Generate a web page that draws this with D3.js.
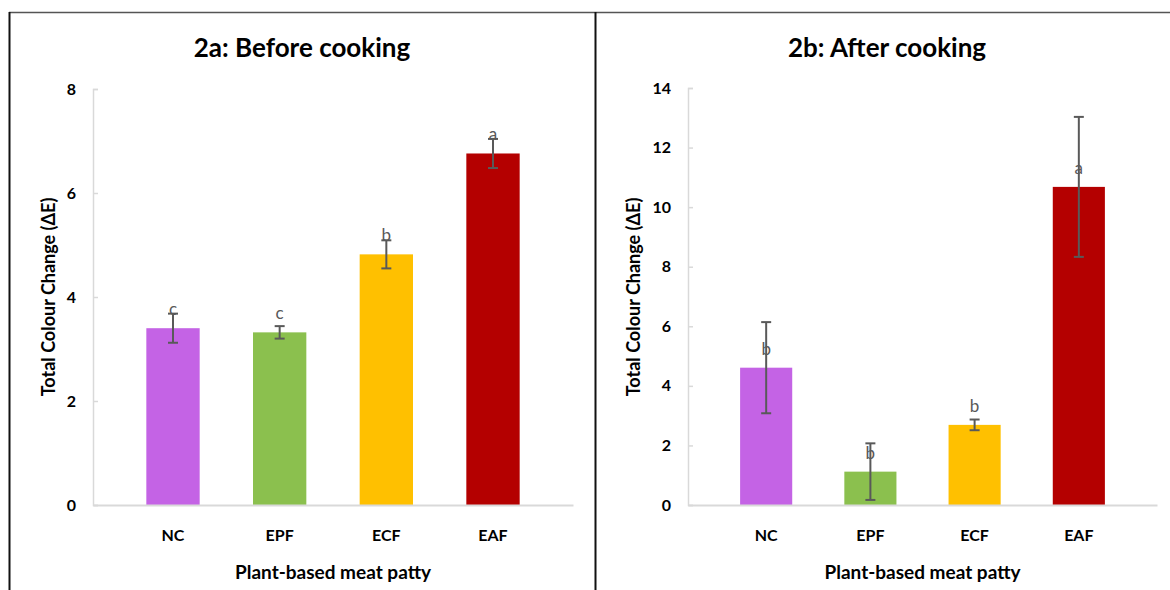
<!DOCTYPE html>
<html>
<head>
<meta charset="utf-8">
<script src="https://cdn.jsdelivr.net/npm/d3@7"></script>
<style>
  html, body { margin: 0; padding: 0; background: #fff; }
  svg { display: block; font-family: Lato, "Open Sans", sans-serif; }
</style>
</head>
<body>
<svg id="chart" width="1170" height="590"></svg>
<script>
// Patty types and measured total colour change (mean ± SD)
const categories = ["NC", "EPF", "ECF", "EAF"];
const barColors = ["#c463e5", "#8bc04e", "#ffc000", "#b40000"];

const beforeMeans   = [3.40, 3.32, 4.82, 6.76];
const beforeErrors  = [0.28, 0.12, 0.27, 0.28];
const beforeLetters = ["c", "c", "b", "a"];
const beforeTicks   = [0, 2, 4, 6, 8];

const afterMeans   = [4.61, 1.12, 2.69, 10.68];
const afterErrors  = [1.53, 0.95, 0.18, 2.35];
const afterLetters = ["b", "b", "b", "a"];
const afterTicks   = [0, 2, 4, 6, 8, 10, 12, 14];

const svg = d3.select("#chart");

// Panel frames
svg.append("line").attr("x1", 9).attr("x2", 1170).attr("y1", 12.5).attr("y2", 12.5)
  .attr("stroke", "#555").attr("stroke-width", 1.5);
svg.append("line").attr("x1", 9.5).attr("x2", 9.5).attr("y1", 12).attr("y2", 590)
  .attr("stroke", "#111").attr("stroke-width", 2);
svg.append("line").attr("x1", 595.5).attr("x2", 595.5).attr("y1", 12).attr("y2", 590)
  .attr("stroke", "#111").attr("stroke-width", 2);

function drawPanel(opt) {
  const g = svg.append("g");
  const x = d3.scaleBand().domain(categories).range([opt.x0, opt.x1]).padding(0.5);
  const y = d3.scaleLinear().domain([0, opt.yMax]).range([505, opt.yTop]);
  const rows = categories.map((c, i) => ({
    cat: c, mean: opt.means[i], err: opt.errors[i], letter: opt.letters[i], color: barColors[i]
  }));

  // Title
  g.append("text").attr("x", opt.titleX).attr("y", 57)
    .attr("text-anchor", "middle").attr("font-size", 26).attr("font-weight", 700)
    .attr("fill", "#000").text(opt.title);

  // Y axis
  const yAxis = g.append("g").attr("transform", `translate(${opt.x0},0)`)
    .call(d3.axisLeft(y).tickValues(opt.ticks).tickSize(-5).tickPadding(17).tickFormat(d3.format("d")));
  yAxis.select(".domain").attr("stroke", "#d9d9d9").attr("stroke-width", 1.5);
  yAxis.selectAll(".tick line").attr("stroke", "#d9d9d9").attr("stroke-width", 1.5);
  yAxis.selectAll(".tick text").attr("font-size", 16).attr("font-weight", 700)
    .attr("fill", "#000").attr("font-family", "Lato, sans-serif");

  // Bars
  g.selectAll("rect.bar").data(rows).join("rect").attr("class", "bar")
    .attr("x", d => x(d.cat)).attr("width", x.bandwidth())
    .attr("y", d => y(d.mean)).attr("height", d => y(0) - y(d.mean))
    .attr("fill", d => d.color);

  // X axis
  const xAxis = g.append("g").attr("transform", "translate(0,505)")
    .call(d3.axisBottom(x).tickSize(0).tickPadding(25));
  xAxis.select(".domain").attr("stroke", "#d9d9d9").attr("stroke-width", 2);
  xAxis.selectAll(".tick text").attr("font-size", 16).attr("font-weight", 700)
    .attr("fill", "#000").attr("font-family", "Lato, sans-serif");

  // Error bars
  const eb = g.selectAll("g.err").data(rows).join("g").attr("class", "err")
    .attr("stroke", "#595959").attr("stroke-width", 2);
  const cx = d => x(d.cat) + x.bandwidth() / 2;
  eb.append("line").attr("x1", cx).attr("x2", cx)
    .attr("y1", d => y(d.mean + d.err)).attr("y2", d => y(d.mean - d.err));
  eb.append("line").attr("x1", d => cx(d) - 5).attr("x2", d => cx(d) + 5)
    .attr("y1", d => y(d.mean + d.err)).attr("y2", d => y(d.mean + d.err));
  eb.append("line").attr("x1", d => cx(d) - 5).attr("x2", d => cx(d) + 5)
    .attr("y1", d => y(d.mean - d.err)).attr("y2", d => y(d.mean - d.err));

  // Significance letters
  g.selectAll("text.sig").data(rows).join("text").attr("class", "sig")
    .attr("x", cx).attr("y", d => y(d.mean) - 13)
    .attr("text-anchor", "middle").attr("font-size", 17).attr("fill", "#595959")
    .text(d => d.letter);

  // Axis titles
  g.append("text").attr("transform", `translate(${opt.yLabelX},297) rotate(-90)`)
    .attr("text-anchor", "middle").attr("dominant-baseline", "central")
    .attr("font-size", 18).attr("font-weight", 700).attr("fill", "#000")
    .text("Total Colour Change (ΔE)");
  g.append("text").attr("x", (opt.x0 + opt.x1) / 2).attr("y", 571)
    .attr("text-anchor", "middle").attr("dominant-baseline", "central")
    .attr("font-size", 19).attr("font-weight", 700).attr("fill", "#000")
    .text("Plant-based meat patty");
}

drawPanel({
  title: "2a: Before cooking", titleX: 302,
  x0: 93, x1: 573, yMax: 8, yTop: 89, ticks: beforeTicks, yLabelX: 48,
  means: beforeMeans, errors: beforeErrors, letters: beforeLetters
});
drawPanel({
  title: "2b: After cooking", titleX: 887,
  x0: 688, x1: 1157, yMax: 14, yTop: 88, ticks: afterTicks, yLabelX: 633,
  means: afterMeans, errors: afterErrors, letters: afterLetters
});
</script>
</body>
</html>
